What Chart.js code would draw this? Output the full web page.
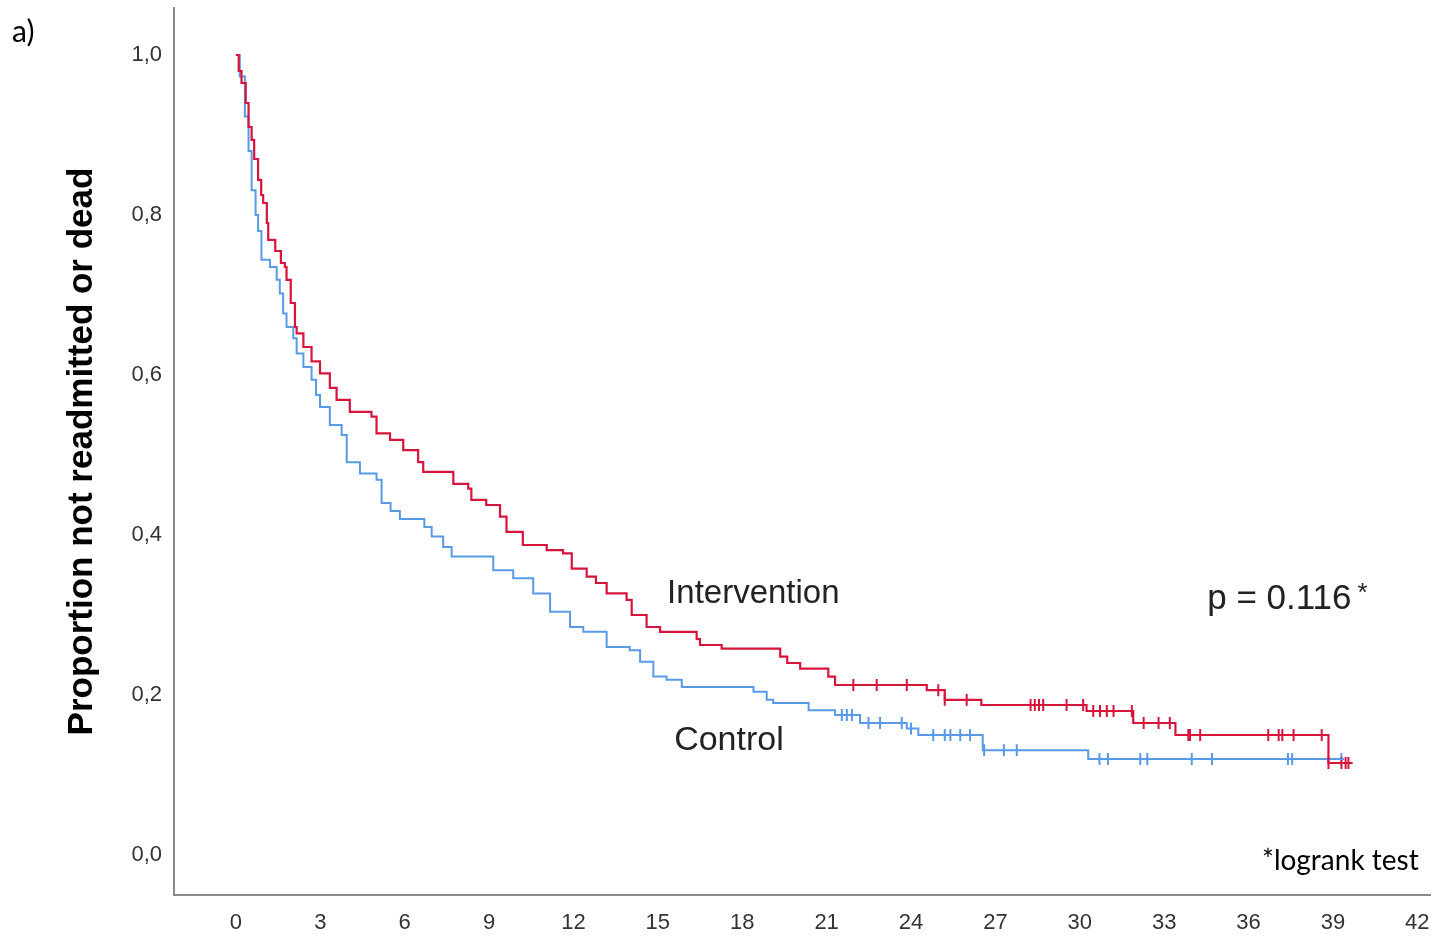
<!DOCTYPE html>
<html>
<head>
<meta charset="utf-8">
<script src="https://cdn.jsdelivr.net/npm/chart.js@4.4.1/dist/chart.umd.min.js"></script>
<style>
  html, body { margin: 0; padding: 0; background: #fff; }
  #wrap { width: 1438px; height: 947px; position: relative; }
</style>
</head>
<body>
<div id="wrap"><canvas id="km"></canvas></div>
<script>
// Kaplan-Meier steps: time (months) and proportion after the step
const intTime = [0, 0.1, 0.2, 0.35, 0.45, 0.56, 0.65, 0.79, 0.9, 0.97, 1.1, 1.15, 1.4, 1.6, 1.74, 1.8, 1.95, 2.1, 2.16, 2.4, 2.69, 2.99, 3.34, 3.58, 4.05, 4.82, 5.0, 5.48, 5.95, 6.48, 6.66, 7.73, 8.26, 8.37, 8.9, 9.39, 9.62, 10.2, 11.05, 11.63, 11.94, 12.47, 12.8, 13.18, 13.89, 14.07, 14.6, 15.08, 16.38, 16.5, 17.27, 19.35, 19.6, 20.06, 21.06, 21.3, 24.56, 25.2, 26.5, 30.24, 31.9, 33.4, 38.84, 39.7];
const intSurv = [1.0, 0.98, 0.965, 0.94, 0.91, 0.894, 0.87, 0.844, 0.825, 0.815, 0.79, 0.769, 0.755, 0.74, 0.735, 0.719, 0.69, 0.66, 0.652, 0.635, 0.617, 0.602, 0.584, 0.569, 0.554, 0.548, 0.527, 0.519, 0.506, 0.491, 0.479, 0.464, 0.458, 0.444, 0.4375, 0.423, 0.404, 0.3875, 0.381, 0.377, 0.358, 0.348, 0.34, 0.327, 0.319, 0.3, 0.285, 0.279, 0.27, 0.2625, 0.258, 0.248, 0.24, 0.233, 0.223, 0.2125, 0.206, 0.194, 0.1875, 0.18, 0.165, 0.15, 0.115, 0.115];
const intCensor = [21.95, 22.78, 23.85, 24.97, 25.2, 25.98, 28.25, 28.4, 28.55, 28.7, 29.53, 30.12, 30.48, 30.72, 30.96, 31.2, 31.85, 32.27, 32.8, 33.2, 33.86, 33.92, 34.28, 36.7, 37.07, 37.2, 37.6, 38.6, 38.84, 39.3, 39.45, 39.55];

const ctrlTime = [0, 0.14, 0.32, 0.45, 0.56, 0.7, 0.79, 0.91, 1.21, 1.45, 1.56, 1.68, 1.8, 2.04, 2.16, 2.4, 2.69, 2.85, 2.99, 3.34, 3.76, 3.94, 4.41, 5.0, 5.18, 5.5, 5.83, 6.7, 6.96, 7.37, 7.67, 9.15, 9.86, 10.57, 11.17, 11.88, 12.35, 13.18, 14.0, 14.37, 14.84, 15.31, 15.85, 18.4, 18.87, 19.1, 20.36, 21.3, 22.19, 23.85, 24.26, 26.55, 30.3, 39.4];
const ctrlSurv = [1.0, 0.973, 0.923, 0.88, 0.831, 0.8, 0.78, 0.744, 0.735, 0.719, 0.702, 0.677, 0.66, 0.646, 0.627, 0.61, 0.594, 0.575, 0.56, 0.5375, 0.525, 0.491, 0.477, 0.469, 0.44, 0.43, 0.42, 0.41, 0.398, 0.385, 0.373, 0.356, 0.346, 0.327, 0.304, 0.285, 0.279, 0.26, 0.256, 0.2417, 0.223, 0.219, 0.21, 0.204, 0.194, 0.19, 0.181, 0.175, 0.165, 0.158, 0.15, 0.131, 0.12, 0.12];
const ctrlCensor = [21.54, 21.72, 21.9, 22.49, 22.9, 23.67, 24.0, 24.79, 25.2, 25.4, 25.75, 26.1, 26.6, 27.3, 27.76, 30.7, 31.0, 32.15, 32.4, 33.98, 34.7, 37.4, 37.55, 39.3];

const xTicks = [0, 3, 6, 9, 12, 15, 18, 21, 24, 27, 30, 33, 36, 39, 42];
const yTicks = [0, 0.2, 0.4, 0.6, 0.8, 1.0];
const yTickLabels = ['0,0', '0,2', '0,4', '0,6', '0,8', '1,0'];

const red = 'rgb(214, 20, 60)';
const blue = 'rgb(88, 154, 230)';

function curve(times, surv) {
  return times.map((t, i) => ({ x: t, y: surv[i] }));
}
// place a censor tick on the step curve at time t
function censorPts(cens, times, surv) {
  return cens.map(t => {
    let v = surv[0];
    for (let i = 0; i < times.length; i++) {
      if (times[i] <= t) v = surv[i];
    }
    return { x: t, y: v };
  });
}

const labelsPlugin = {
  id: 'kmLabels',
  afterDraw(chart) {
    const ctx = chart.ctx;
    const xs = chart.scales.x, ys = chart.scales.y;
    ctx.save();
    ctx.fillStyle = '#222';
    ctx.textBaseline = 'alphabetic';
    ctx.textAlign = 'left';
    ctx.font = '33px "Liberation Sans", Arial, sans-serif';
    ctx.fillText('Intervention', xs.getPixelForValue(15.33), ys.getPixelForValue(0.315));
    ctx.font = '34px "Liberation Sans", Arial, sans-serif';
    ctx.fillText('Control', xs.getPixelForValue(15.58), ys.getPixelForValue(0.131));
    const px = xs.getPixelForValue(34.53), py = ys.getPixelForValue(0.3075);
    ctx.font = '35px "Liberation Sans", Arial, sans-serif';
    ctx.fillText('p = 0.116', px, py);
    const w = ctx.measureText('p = 0.116').width;
    ctx.font = '26px "Liberation Sans", Arial, sans-serif';
    ctx.fillText('*', px + w + 6, py - 8);
    ctx.fillStyle = '#000';
    ctx.font = '28px Lato, "Open Sans", sans-serif';
    ctx.fillText('*logrank test', 1262, 870);
    ctx.font = '30px Lato, "Open Sans", sans-serif';
    ctx.fillText('a)', 12, 42);
    ctx.restore();
  }
};

new Chart(document.getElementById('km'), {
  data: {
    datasets: [
      { type: 'line', label: 'Intervention', data: curve(intTime, intSurv), stepped: true,
        borderColor: red, borderWidth: 2.2, pointRadius: 0, fill: false },
      { type: 'line', label: 'Control', data: curve(ctrlTime, ctrlSurv), stepped: true,
        borderColor: blue, borderWidth: 2, pointRadius: 0, fill: false },
      { type: 'scatter', label: 'Intervention censored', data: censorPts(intCensor, intTime, intSurv),
        pointStyle: 'line', rotation: 90, pointRadius: 6, borderColor: red, borderWidth: 2 },
      { type: 'scatter', label: 'Control censored', data: censorPts(ctrlCensor, ctrlTime, ctrlSurv),
        pointStyle: 'line', rotation: 90, pointRadius: 6, borderColor: blue, borderWidth: 2 }
    ]
  },
  options: {
    responsive: true,
    maintainAspectRatio: false,
    animation: false,
    layout: { padding: { top: 8, right: 8, left: 0, bottom: 0 } },
    plugins: { legend: { display: false }, tooltip: { enabled: false } },
    scales: {
      x: {
        type: 'linear', min: -2.2, max: 42.45,
        grid: { display: false, drawTicks: false },
        border: { display: true, color: '#8a8a8a', width: 2 },
        afterBuildTicks: axis => { axis.ticks = xTicks.map(v => ({ value: v })); },
        afterFit: s => { s.height = 52; s.paddingLeft = 0; s.paddingRight = 0; },
        ticks: { padding: 15, color: '#333', font: { family: '"Liberation Sans", Arial', size: 22 },
                 maxRotation: 0, autoSkip: false }
      },
      y: {
        type: 'linear', min: -0.05, max: 1.05875,
        grid: { display: false, drawTicks: false },
        border: { display: true, color: '#8a8a8a', width: 2 },
        afterBuildTicks: axis => { axis.ticks = yTicks.map(v => ({ value: v })); },
        afterFit: s => { s.width = 174; s.paddingTop = 0; s.paddingBottom = 0; },
        ticks: { padding: 12, color: '#333', font: { family: '"Liberation Sans", Arial', size: 22 },
                 callback: (v) => yTickLabels[yTicks.indexOf(v)] },
        title: { display: true, text: 'Proportion not readmitted or dead', color: '#000',
                 font: { family: '"Liberation Sans", Arial', size: 35, weight: 'bold' },
                 padding: { top: 61, bottom: 0 } }
      }
    }
  },
  plugins: [labelsPlugin]
});
</script>
</body>
</html>
